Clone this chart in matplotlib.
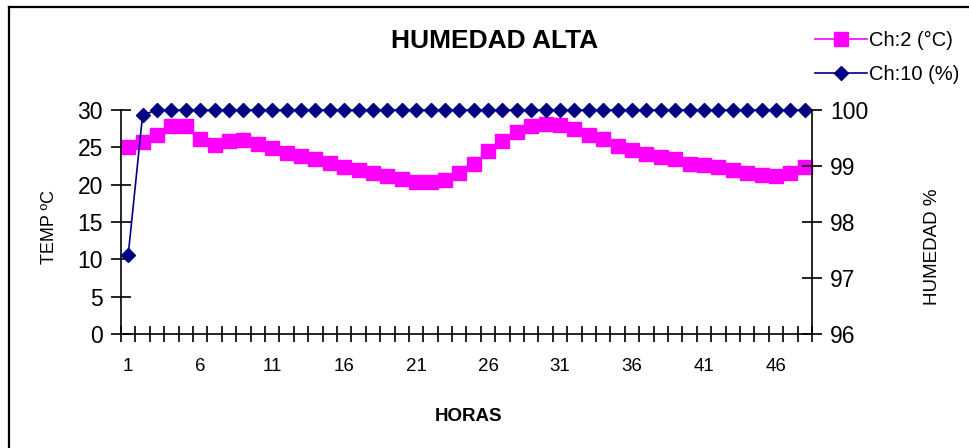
import matplotlib.pyplot as plt
from matplotlib.lines import Line2D

plt.rcParams['font.family'] = ['Liberation Sans', 'DejaVu Sans']

# hourly readings, channel 2 = temperature, channel 10 = relative humidity
horas = list(range(1, 49))
temp = [25.1, 25.7, 26.7, 27.8, 27.9, 26.1, 25.3, 25.9, 26.0, 25.5,
        24.9, 24.2, 23.8, 23.4, 22.9, 22.4, 22.0, 21.5, 21.2, 20.7,
        20.3, 20.3, 20.6, 21.5, 22.8, 24.5, 25.8, 27.0, 27.8, 28.1,
        28.0, 27.4, 26.7, 26.1, 25.2, 24.6, 24.1, 23.7, 23.4, 22.8,
        22.6, 22.4, 21.9, 21.6, 21.3, 21.2, 21.6, 22.3]
humedad = [97.41, 99.91, 100, 100, 100, 100, 100, 100, 100, 100,
           100, 100, 100, 100, 100, 100, 100, 100, 100, 100,
           100, 100, 100, 100, 100, 100, 100, 100, 100, 100,
           100, 100, 100, 100, 100, 100, 100, 100, 100, 100,
           100, 100, 100, 100, 100, 100, 100, 100]
etiquetas_x = ['1', '6', '11', '16', '21', '26', '31', '36', '41', '46']
ticks_temp = [0, 5, 10, 15, 20, 25, 30]
ticks_hum = [96, 97, 98, 99, 100]

W, H = 970, 448
fig = plt.figure(figsize=(W / 100, H / 100), dpi=100)
ax = fig.add_axes([121 / W, 1 - 334 / H, (812 - 121) / W, (334 - 110) / H])
ax2 = ax.twinx()

ax.plot(horas, temp, color='#FF00FF', lw=1.2, marker='s', ms=10,
        mec='#FF00FF', clip_on=False, label='Ch:2 (°C)')
ax2.plot(horas, humedad, color='#000080', lw=1.2, marker='D', ms=7.2,
         mec='#000080', clip_on=False, label='Ch:10 (%)')

ax.set_xlim(0.5, 48.5)
ax.set_ylim(0, 30)
ax2.set_ylim(96, 100)

ax.set_xticks([int(s) for s in etiquetas_x])
ax.set_xticklabels(etiquetas_x, fontsize=13.5)
ax.set_xticks([h - 0.5 for h in horas] + [48.5], minor=True)
ax.tick_params(axis='x', which='major', length=0, pad=17)
ax.tick_params(axis='x', which='minor', direction='inout', length=11, width=1.2)

ax.set_yticks(ticks_temp)
ax.tick_params(axis='y', direction='inout', length=14, width=1.2,
               labelsize=16.5, pad=6)
ax2.set_yticks(ticks_hum)
ax2.tick_params(axis='y', direction='inout', length=14, width=1.2,
                labelsize=16.5, pad=6)

for a in (ax, ax2):
    a.spines['top'].set_visible(False)
    for s in ('left', 'right', 'bottom'):
        a.spines[s].set_linewidth(1.2)
ax.spines['right'].set_visible(False)
ax2.spines['left'].set_visible(False)
ax2.spines['bottom'].set_visible(False)

fig.text(495 / W, 1 - 41 / H, 'HUMEDAD ALTA', fontsize=19, fontweight='bold',
         ha='center', va='center')
fig.text(469 / W, 1 - 416 / H, 'HORAS', fontsize=13.5, fontweight='bold',
         ha='center', va='center')
fig.text(50 / W, 1 - 227 / H, 'TEMP ºC', fontsize=13, rotation=90,
         ha='center', va='center')
fig.text(933 / W, 1 - 247 / H, 'HUMEDAD %', fontsize=13.5, rotation=90,
         ha='center', va='center')

h1, l1 = ax.get_legend_handles_labels()
h2, l2 = ax2.get_legend_handles_labels()
fig.legend(h1 + h2, l1 + l2, loc='upper left',
           bbox_to_anchor=(815 / W, 1 - 31 / H), frameon=False,
           fontsize=14.5, handlelength=2.6, handletextpad=0.1,
           labelspacing=0.75, borderpad=0, borderaxespad=0, markerscale=1.0)

# chart border (left and top edges)
fig.add_artist(Line2D([9.5 / W, 9.5 / W], [0, 1 - 7 / H], color='black',
                      lw=1.6, transform=fig.transFigure))
fig.add_artist(Line2D([9 / W, 1], [1 - 7.5 / H, 1 - 7.5 / H], color='black',
                      lw=1.6, transform=fig.transFigure))

fig.savefig('out.png', dpi=100)
